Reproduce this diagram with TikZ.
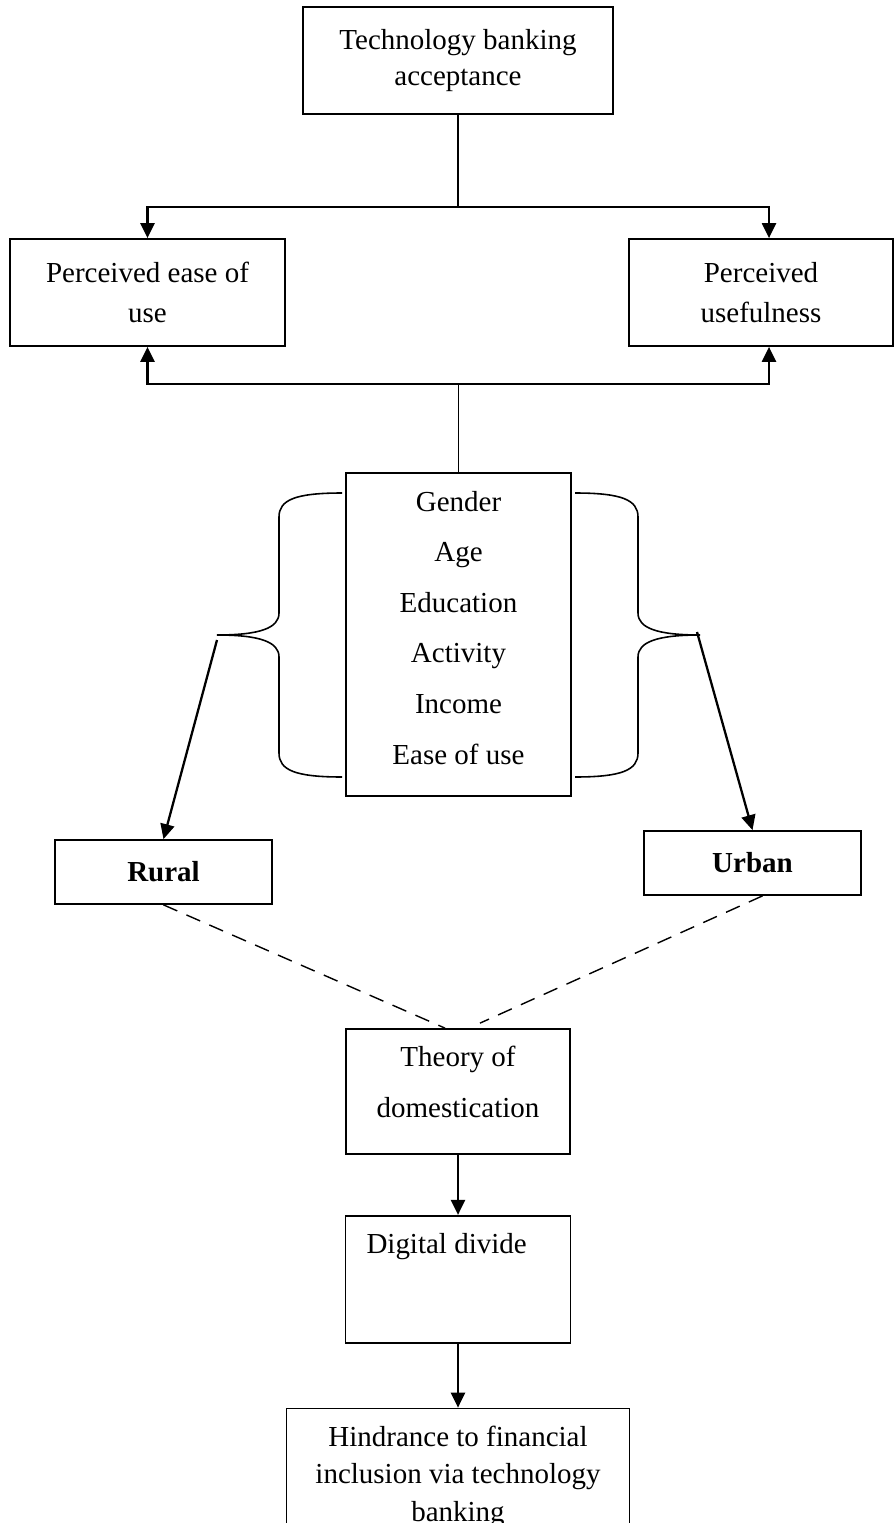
\documentclass[tikz,border=0pt]{standalone}
\usepackage{fontspec}
\setmainfont{Liberation Serif}
\usepackage{tikz}
\usetikzlibrary{arrows.meta,positioning,calc}
\tikzset{
  caja/.style={draw, line width=1pt, align=center, inner sep=0pt, font=\fontsize{16.5}{20}\selectfont},
  arrflow/.style={-{Triangle[length=3mm,width=2.8mm]}, line width=1.3pt},
  enlace/.style={line width=0.9pt},
  punteada/.style={dash pattern=on 3mm off 2mm, line width=0.8pt},
}

\begin{document}
\begin{tikzpicture}
\useasboundingbox (0,0) rectangle (17.9,-30.46);
% upper part
\node[caja, minimum width=6.2cm, minimum height=2.14cm] (tba) at (9.16,-1.21) {Technology banking\\acceptance};
\node[caja, minimum width=5.5cm, minimum height=2.14cm] (peou) at (2.95,-5.85) {Perceived ease of\\[2.8pt]use};
\node[caja, minimum width=5.28cm, minimum height=2.14cm] (pu) at (15.22,-5.85) {Perceived\\[2.8pt]usefulness};
\node[caja, minimum width=4.5cm, minimum height=6.46cm, font=\fontsize{16.5}{28.8}\selectfont] (dem) at (9.17,-12.69)
  {\parbox[c][6.46cm][t]{4.5cm}{\centering\vspace*{0.36cm}Gender\\Age\\Education\\Activity\\Income\\Ease of use}};
\node[caja, minimum width=4.34cm, minimum height=1.28cm, font=\bfseries\fontsize{16.5}{20}\selectfont] (rur) at (3.27,-17.44) {Rural};
\node[caja, minimum width=4.34cm, minimum height=1.28cm, font=\bfseries\fontsize{16.5}{20}\selectfont] (urb) at (15.05,-17.26) {Urban};
% lower chain
\node[caja, minimum width=4.48cm, minimum height=2.5cm, font=\fontsize{16.5}{28.8}\selectfont] (thd) at (9.16,-21.83)
  {\parbox[c][2.5cm][t]{4.48cm}{\centering\vspace*{0.34cm}Theory of\\domestication}};
\node[caja, below=1.2cm of thd, minimum width=4.5cm, minimum height=2.54cm] (dd) {\parbox[c][2.54cm][t]{4.5cm}{\vspace*{0.36cm}\hspace*{0.42cm}Digital divide}};
\node[caja, below=1.28cm of dd, minimum width=6.86cm, inner ysep=0.35cm, font=\fontsize{16.5}{21.3}\selectfont] (hin) {Hindrance to financial\\inclusion via technology\\banking};

\draw[enlace] (tba.south) -- ++(0,-1.84) coordinate (bif);
\draw[arrflow] (bif) -| (peou.north);
\draw[arrflow] (bif) -| ([xshift=1.6mm]pu.north);
\draw[enlace] (dem.north) -- ++(0,1.76) coordinate (jun);
\draw[arrflow] (jun) -| (peou.south);
\draw[arrflow] (jun) -| ([xshift=1.6mm]pu.south);

% braces
\draw[enlace] (6.84,-9.86) .. controls (5.9,-9.86) and (5.58,-10.0) .. (5.58,-10.34) -- (5.58,-12.26)
  .. controls (5.58,-12.56) and (5.2,-12.7) .. (4.34,-12.7) coordinate (lpunta)
  .. controls (5.2,-12.7) and (5.58,-12.84) .. (5.58,-13.14) -- (5.58,-15.06)
  .. controls (5.58,-15.4) and (5.9,-15.54) .. (6.84,-15.54);
\draw[enlace] (11.5,-9.86) .. controls (12.44,-9.86) and (12.76,-10.0) .. (12.76,-10.34) -- (12.76,-12.26)
  .. controls (12.76,-12.56) and (13.14,-12.7) .. (14.0,-12.7) coordinate (rpunta)
  .. controls (13.14,-12.7) and (12.76,-12.84) .. (12.76,-13.14) -- (12.76,-15.06)
  .. controls (12.76,-15.4) and (12.44,-15.54) .. (11.5,-15.54);
\draw[arrflow] ([yshift=-1mm]lpunta) -- (rur.north);
\draw[arrflow] ([xshift=-0.6mm,yshift=0.6mm]rpunta) -- (urb.north);

\draw[punteada] (rur.south) -- ([xshift=-2.6mm]thd.north);
\draw[punteada] ([xshift=2mm]urb.south) -- ([xshift=4.4mm,yshift=1mm]thd.north);
\draw[arrflow] (thd) -- (dd);
\draw[arrflow] (dd) -- (hin);
\end{tikzpicture}
\end{document}
